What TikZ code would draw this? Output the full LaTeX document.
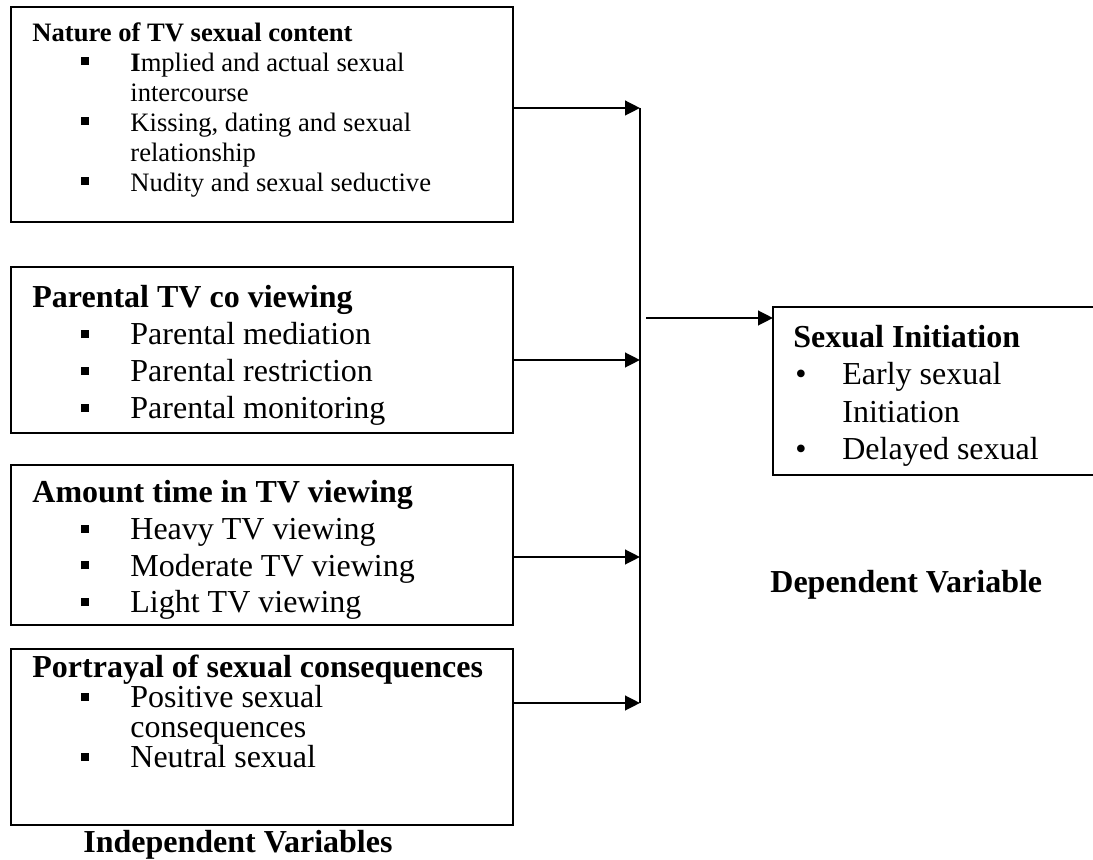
\documentclass[tikz,border=0pt]{standalone}
\usepackage{fontspec}
\setmainfont{Liberation Serif}
\usetikzlibrary{arrows.meta}

\newcommand{\bsq}{\makebox[49pt][l]{\hspace{24.5pt}\rule[3.4pt]{4pt}{4pt}}}
\newcommand{\bind}{\hspace*{49pt}}
\newcommand{\bdot}{\makebox[24.5pt][l]{\hspace{1pt}\textbullet}}
\newcommand{\dind}{\hspace*{24.5pt}}

\begin{document}
\begin{tikzpicture}[x=0.5pt, y=-0.5pt, >={Triangle[length=7.5pt,width=7.3pt]}]

  \tikzstyle{box}=[draw=black, line width=1pt, inner sep=0pt, outer sep=0pt,
    anchor=north west]
  \tikzstyle{txt}=[inner sep=0pt, anchor=base west, align=left]
  \tikzstyle{link}=[black, line width=1.2pt]

  \useasboundingbox (0,0) rectangle (1093,860);

  % independent variables (text placed by its last baseline)
  \node [txt, font=\fontsize{13.3}{15}\selectfont] (nattxt) at (32,192) {%
\textbf{Nature of TV sexual content}\\
\bsq\textbf{I}mplied and actual sexual\\
\bind intercourse\\
\bsq Kissing, dating and sexual\\
\bind relationship\\
\bsq Nudity and sexual seductive};

  \node [txt, font=\fontsize{16}{18.5}\selectfont] (partxt) at (32,419) {%
\textbf{Parental TV co viewing}\\
\bsq Parental mediation\\
\bsq Parental restriction\\
\bsq Parental monitoring};

  \node [txt, font=\fontsize{16}{18.4}\selectfont] (amttxt) at (32,613) {%
\textbf{Amount time in TV viewing}\\
\bsq Heavy TV viewing\\
\bsq Moderate TV viewing\\
\bsq Light TV viewing};

  \node [txt, font=\fontsize{16}{15}\selectfont] (portxt) at (32,768) {%
\textbf{Portrayal of sexual consequences}\\
\bsq Positive sexual\\
\bind consequences\\
\bsq Neutral sexual};

  \node [box, minimum width=251pt, minimum height=107.5pt] (natbox) at (11,7) {};
  \node [box, minimum width=251pt, minimum height=83pt] (parbox) at (11,267) {};
  \node [box, minimum width=251pt, minimum height=80pt] (amtbox) at (11,465) {};
  \node [box, minimum width=251pt, minimum height=88pt] (porbox) at (11,649) {};

  % dependent variable
  \node [txt, font=\fontsize{16}{18.8}\selectfont] (sextxt) at (793,460) {%
\textbf{Sexual Initiation}\\
\bdot Early sexual\\
\dind Initiation\\
\bdot Delayed sexual};
  \node [box, minimum width=163.5pt, minimum height=84pt] (sexbox) at (773,307) {};

  \node [txt, font=\fontsize{16}{18.5}\selectfont\bfseries] (indep) at (83,852)
    {Independent Variables};
  \node [txt, font=\fontsize{16}{18.5}\selectfont\bfseries] (dep) at (770,593)
    {Dependent Variable};

  \coordinate (j1) at (640,108);
  \coordinate (j2) at (640,360);
  \coordinate (j3) at (640,557);
  \coordinate (j4) at (640,703);
  \coordinate (out) at (646,318);

  \draw [link, ->] (natbox.east |- j1) -- (j1);
  \draw [link, ->] (parbox.east |- j2) -- (j2);
  \draw [link, ->] (amtbox.east |- j3) -- (j3);
  \draw [link, ->] (porbox.east |- j4) -- (j4);
  \draw [black, line width=1pt] (j1) -- (j4);
  \draw [link, ->] (out) -- (out -| sexbox.west);

\end{tikzpicture}
\end{document}
